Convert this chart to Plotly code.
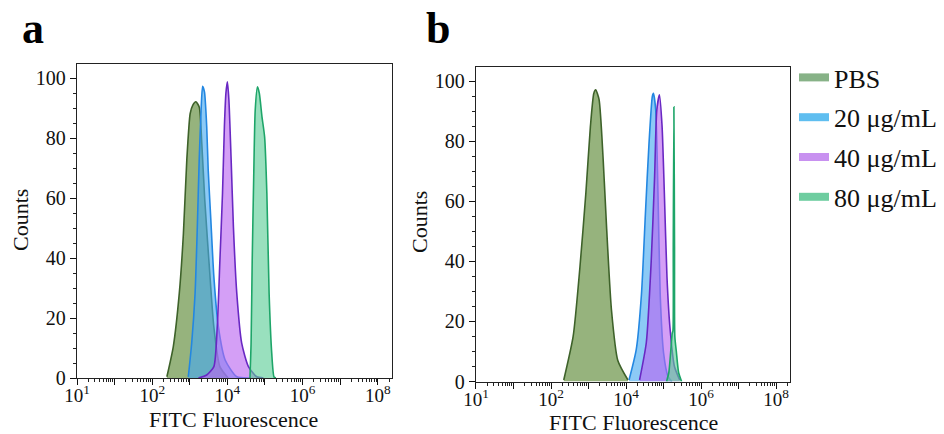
import plotly.graph_objects as go
from plotly.subplots import make_subplots

# Histogram outlines, x = log10(FITC fluorescence), y = counts
# Panel a
a_pbs_x = [2.39, 2.56, 2.72, 2.83, 2.92, 3.01, 3.08, 3.16, 3.25, 3.32, 3.40, 3.52, 3.64, 3.80, 4.02]
a_pbs_y = [0.4, 10.4, 28.2, 48.2, 72.7, 88.2, 91.0, 92.1, 90.4, 78.0, 59.0, 37.0, 17.0, 3.8, 0.0]
a_20_x = [2.96, 3.05, 3.14, 3.20, 3.25, 3.30, 3.34, 3.39, 3.45, 3.49, 3.56, 3.64, 3.76, 3.94, 4.25, 4.60]
a_20_y = [0.4, 11.6, 28.2, 50.4, 72.7, 89.3, 97.3, 95.4, 83.8, 69.3, 52.7, 33.8, 17.1, 6.0, 0.4, 0.0]
a_40_x = [3.23, 3.45, 3.64, 3.73, 3.80, 3.87, 3.92, 3.96, 4.00, 4.04, 4.10, 4.16, 4.25, 4.38, 4.56, 4.78, 4.96]
a_40_y = [0.0, 1.0, 3.8, 17.0, 39.0, 61.6, 83.8, 94.9, 98.8, 92.7, 72.7, 50.4, 28.2, 11.6, 3.8, 0.4, 0.0]
a_80_x = [4.60, 4.63, 4.66, 4.70, 4.74, 4.80, 4.85, 4.92, 4.99, 5.05, 5.11, 5.18, 5.24, 5.29]
a_80_y = [0.0, 11.6, 39.0, 67.0, 89.3, 97.1, 94.9, 87.1, 80.4, 61.6, 28.2, 8.2, 0.4, 0.0]

# Panel b
b_pbs_x = [2.34, 2.59, 2.77, 2.93, 3.05, 3.14, 3.19, 3.28, 3.39, 3.48, 3.61, 3.78, 4.05]
b_pbs_y = [0.5, 15.0, 38.0, 63.0, 85.0, 96.0, 97.2, 94.0, 74.0, 51.6, 24.0, 7.0, 0.5]
b_20_x = [4.08, 4.27, 4.41, 4.52, 4.61, 4.70, 4.73, 4.79, 4.85, 4.91, 5.00, 5.12, 5.22]
b_20_y = [0.5, 10.5, 29.0, 57.0, 79.0, 95.0, 96.0, 90.5, 63.0, 29.0, 9.5, 1.6, 0.0]
b_40_x = [4.36, 4.54, 4.67, 4.76, 4.82, 4.89, 4.96, 5.02, 5.09, 5.17, 5.29, 5.43]
b_40_y = [0.5, 13.0, 40.0, 68.0, 90.5, 95.5, 85.0, 63.0, 35.0, 18.0, 5.0, 0.5]
b_80_x = [5.08, 5.14, 5.19, 5.23, 5.25, 5.258, 5.275, 5.292, 5.30, 5.34, 5.40, 5.48]
b_80_y = [0.0, 3.0, 10.0, 16.0, 17.0, 45.0, 91.5, 45.0, 15.0, 10.0, 3.0, 0.0]

series_names = ["PBS", "20 μg/mL", "40 μg/mL", "80 μg/mL"]
line_colors = ["rgb(62,98,42)", "rgb(35,135,225)", "rgb(105,40,195)", "rgb(30,165,105)"]
fill_colors = ["rgba(110,150,75,0.72)", "rgba(70,170,240,0.62)",
               "rgba(185,100,240,0.62)", "rgba(90,205,150,0.62)"]
legend_colors = ["rgb(135,178,135)", "rgb(95,190,240)", "rgb(200,145,240)", "rgb(110,205,160)"]

x_tick_exp = [0, 1, 2, 3, 4, 5, 6, 7, 8]
x_tick_text = ["10<sup>1</sup>", "", "10<sup>2</sup>", "", "10<sup>4</sup>", "",
               "10<sup>6</sup>", "", "10<sup>8</sup>"]
y_tick_vals = [0, 20, 40, 60, 80, 100]

FONT = "Liberation Serif, Times New Roman, serif"

fig = make_subplots(rows=1, cols=2)

panels = [
    [(a_pbs_x, a_pbs_y), (a_20_x, a_20_y), (a_40_x, a_40_y), (a_80_x, a_80_y)],
    [(b_pbs_x, b_pbs_y), (b_20_x, b_20_y), (b_40_x, b_40_y), (b_80_x, b_80_y)],
]
for col, curves in enumerate(panels, start=1):
    for i, (xs, ys) in enumerate(curves):
        fig.add_trace(go.Scatter(
            x=[10 ** v for v in xs], y=ys, mode="lines",
            line=dict(color=line_colors[i], width=1.6, shape="spline", smoothing=0.6),
            fill="tozeroy", fillcolor=fill_colors[i],
            showlegend=False, hoverinfo="skip"), row=1, col=col)

# legend swatches
for i, name in enumerate(series_names):
    fig.add_trace(go.Scatter(
        x=[None], y=[None], mode="lines", name=name, legendgroup=name,
        line=dict(color=legend_colors[i], width=8)), row=1, col=2)

minor_vals = [k * 10 ** d for d in range(0, 9) for k in range(2, 10)]

xaxis_style = dict(
    type="log", range=[0, 8.37], automargin=False,
    tickmode="array", tickvals=[10 ** e for e in x_tick_exp], ticktext=x_tick_text,
    ticks="outside", ticklen=6, tickwidth=1.4, tickcolor="#111",
    ticklabelstandoff=-6,
    minor=dict(tickmode="array", tickvals=minor_vals, ticks="outside",
               ticklen=3, tickwidth=1, tickcolor="#222"),
    showline=True, linecolor="#222", linewidth=1.4, mirror=True,
    showgrid=False, zeroline=False,
    tickfont=dict(family=FONT, size=19, color="#111"),
)
yaxis_style = dict(
    range=[0, 104.7], tickmode="array", tickvals=y_tick_vals, automargin=False,
    ticks="outside", ticklen=6, tickwidth=1.4, tickcolor="#111",
    minor=dict(dtick=5, ticks="outside", ticklen=3, tickwidth=1, tickcolor="#222"),
    showline=True, linecolor="#222", linewidth=1.4, mirror=True,
    showgrid=False, zeroline=False,
    tickfont=dict(family=FONT, size=20, color="#111"),
)

fig.update_xaxes(**xaxis_style)
fig.update_yaxes(**yaxis_style)

title_font = dict(family=FONT, size=22, color="#111")
annotations = []
for cx, cy in [(20, 220), (419, 222)]:
    annotations.append(dict(text="Counts", x=cx / 944, y=1 - cy / 434, xref="paper",
                            yref="paper", textangle=-90, showarrow=False,
                            xanchor="center", yanchor="middle", font=title_font))
for cx, cy in [(233, 419), (633, 422)]:
    annotations.append(dict(text="FITC Fluorescence", x=cx / 944, y=1 - cy / 434,
                            xref="paper", yref="paper", showarrow=False,
                            xanchor="center", yanchor="middle", font=title_font))
for letter, lx in [("a", 20), ("b", 424)]:
    annotations.append(dict(text=f"<b>{letter}</b>", x=lx / 944, y=1 - 29 / 434,
                            xref="paper", yref="paper", xanchor="left",
                            yanchor="middle", showarrow=False,
                            font=dict(family=FONT, size=44, color="#000")))

fig.update_layout(
    xaxis=dict(domain=[0.0816, 0.4149]),
    xaxis2=dict(domain=[0.5042, 0.8369]),
    yaxis=dict(domain=[1 - 378 / 434, 1 - 64 / 434]),
    yaxis2=dict(domain=[1 - 381.5 / 434, 1 - 67.3 / 434]),
    width=944, height=434,
    margin=dict(l=0, r=0, t=0, b=0),
    paper_bgcolor="white", plot_bgcolor="white",
    font=dict(family=FONT, color="#111"),
    legend=dict(x=794 / 944, y=1 - 54 / 434, xanchor="left", yanchor="top",
                font=dict(family=FONT, size=26, color="#111"),
                tracegroupgap=3, itemwidth=30, bgcolor="rgba(0,0,0,0)"),
    annotations=annotations,
)

fig.write_html("out.html")
